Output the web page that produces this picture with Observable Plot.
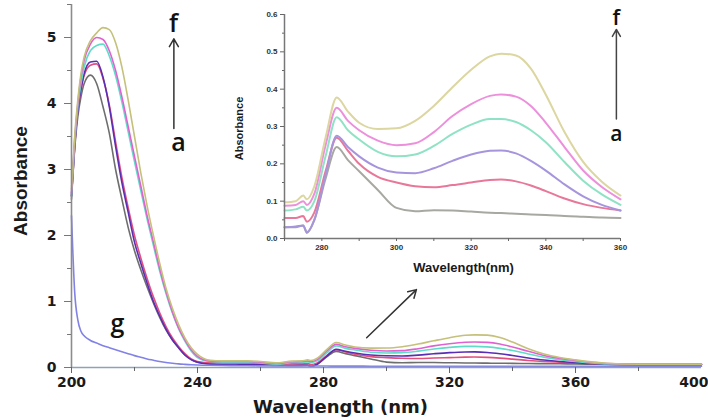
<!DOCTYPE html>
<html><head><meta charset="utf-8">
<script src="https://cdn.jsdelivr.net/npm/d3@7"></script>
<script src="https://cdn.jsdelivr.net/npm/@observablehq/plot@0.6"></script>
<style>
body{margin:0;background:#fff;}
#wrap{position:relative;width:708px;height:418px;overflow:hidden;background:#fff;}
#wrap svg{position:absolute;overflow:visible;}
</style></head><body><div id="wrap"></div>
<script>
// ---- data ----
const wavelength = [200,201,202,203,204, 206,208,210,212,214,216,218,220,222,224,226,228,230,232,234,236,238,240, 244,248,252,256,260, 265,270,273,275,276,278,281,284,287,290, 295,300,305,310,315,320,325,328,332,336,340,345,350,355,360, 365,370,380,390,400];
const seriesNames = ["a","b","c","d","e","f","g"];
const absA = [2.55,3.3,3.8,4.1,4.3, 4.43,4.3,3.95,3.55,3.0,2.55,2.12,1.77,1.48,1.22,0.98,0.76,0.57,0.42,0.3,0.19,0.12,0.08, 0.06,0.05,0.05,0.05,0.04, 0.04,0.03,0.03,0.035,0.015,0.05,0.16,0.245,0.21,0.18, 0.13,0.082,0.073,0.076,0.075,0.072,0.069,0.068,0.066,0.064,0.063,0.06,0.058,0.056,0.055, 0.05,0.045,0.04,0.04,0.04];
const absB = [2.6,3.35,3.9,4.2,4.42, 4.58,4.6,4.38,3.98,3.42,2.88,2.42,2.0,1.66,1.35,1.07,0.83,0.62,0.45,0.32,0.21,0.13,0.09, 0.07,0.07,0.07,0.07,0.06, 0.05,0.055,0.055,0.06,0.045,0.07,0.18,0.27,0.235,0.2, 0.165,0.15,0.14,0.137,0.143,0.15,0.157,0.158,0.153,0.142,0.127,0.107,0.092,0.082,0.075, 0.06,0.05,0.045,0.045,0.045];
const absC = [2.6,3.35,3.9,4.22,4.45, 4.63,4.64,4.4,3.95,3.35,2.8,2.35,1.9,1.58,1.28,1.0,0.78,0.58,0.42,0.3,0.19,0.12,0.08, 0.05,0.04,0.04,0.04,0.04, 0.03,0.03,0.032,0.035,0.017,0.05,0.17,0.275,0.245,0.22, 0.19,0.177,0.175,0.188,0.208,0.225,0.235,0.236,0.228,0.208,0.182,0.145,0.113,0.09,0.075, 0.06,0.05,0.045,0.045,0.045];
const absD = [2.6,3.4,3.95,4.3,4.55, 4.8,4.88,4.9,4.72,4.42,4.02,3.57,3.12,2.68,2.25,1.85,1.46,1.12,0.83,0.59,0.4,0.25,0.15, 0.09,0.08,0.08,0.08,0.07, 0.05,0.075,0.078,0.085,0.075,0.1,0.22,0.325,0.29,0.265, 0.232,0.22,0.225,0.248,0.28,0.305,0.32,0.32,0.312,0.29,0.258,0.205,0.155,0.118,0.09, 0.07,0.055,0.05,0.05,0.05];
const absE = [2.65,3.45,4.0,4.4,4.65, 4.9,5.0,4.97,4.8,4.5,4.1,3.65,3.2,2.75,2.3,1.9,1.5,1.15,0.85,0.6,0.42,0.27,0.17, 0.1,0.09,0.09,0.09,0.08, 0.06,0.088,0.09,0.1,0.09,0.12,0.25,0.35,0.315,0.29, 0.262,0.25,0.255,0.285,0.328,0.36,0.382,0.386,0.38,0.355,0.31,0.245,0.182,0.138,0.105, 0.08,0.06,0.05,0.05,0.05];
const absF = [2.7,3.5,4.05,4.45,4.7, 4.95,5.07,5.15,5.12,4.92,4.55,4.05,3.5,2.95,2.45,2.0,1.58,1.2,0.9,0.65,0.45,0.3,0.2, 0.11,0.1,0.1,0.1,0.09, 0.07,0.097,0.1,0.115,0.105,0.14,0.27,0.378,0.34,0.31, 0.293,0.295,0.315,0.355,0.405,0.452,0.488,0.495,0.49,0.455,0.385,0.285,0.205,0.152,0.115, 0.085,0.065,0.05,0.05,0.05];
const absG = [2.3,1.15,0.72,0.55,0.48, 0.41,0.37,0.33,0.3,0.27,0.24,0.21,0.18,0.155,0.13,0.11,0.09,0.075,0.065,0.055,0.048,0.042,0.038, 0.033,0.03,0.028,0.026,0.025, 0.024,0.023,0.023,0.022,0.022,0.022,0.022,0.021,0.021,0.021, 0.02,0.02,0.02,0.02,0.02,0.02,0.02,0.02,0.02,0.02,0.02,0.02,0.02,0.02,0.02, 0.02,0.02,0.02,0.02,0.02];
const seriesValues = [absA, absB, absC, absD, absE, absF, absG];
const insetSeries = ["a","b","c","d","e","f"];

const mainXTicks = [200,240,280,320,360];
const mainXLastTick = [400];
const mainXMinor = [220,260,300,340,380];
const mainYTicks = [0,1,2,3,4,5];
const mainYMinor = [0.5,1.5,2.5,3.5,4.5,5.5];
const insetXTicks = [280,300,320,340,360];
const insetXMinor = [270,290,310,330,350];
const insetYTicks = [0,0.1,0.2,0.3,0.4,0.5,0.6];
const insetYMinor = [0.05,0.15,0.25,0.35,0.45,0.55];

const mainNoteText = ["f","a","g"];
const mainNoteWl = [232.4, 234, 214.6];
const mainNoteAbs = [5.2, 3.4, 0.66];
const mainArrowFrom = [[232.5, 3.62], [293.7, 0.45]];
const mainArrowTo = [[232.5, 4.98], [309.5, 1.18]];
const insetNoteText = ["f","a"];
const insetNoteWl = [358.9, 358.9];
const insetNoteAbs = [0.59, 0.278];
const insetArrowFrom = [[358.9, 0.32]];
const insetArrowTo = [[358.9, 0.56]];

// ---- styles ----
const mainColors = ["#6e6e6e","#e4507e","#5a2db5","#5fdcc8","#e062d2","#c5c07a","#8282e6"];
const insetColors = ["#a8a8a2","#e8789a","#a695dd","#8fe3c4","#ec90dc","#dcd6a0"];
const FONT = "Liberation Sans, Arial, sans-serif";
const WIDEFONT = "DejaVu Sans, Verdana, sans-serif";
const NOTEFONT = "Open Sans, Noto Sans, sans-serif";

const rows = [];
seriesNames.forEach((s, i) => seriesValues[i].forEach((v, j) => rows.push({series: s, wl: wavelength[j], abs: v})));
const insetRows = rows.filter(d => insetSeries.includes(d.series) && d.wl >= 270 && d.wl <= 360);
const notes = (t, w, a) => t.map((s, i) => ({text: s, wl: w[i], abs: a[i]}));
const arrows = (f, t) => f.map((p, i) => ({x1: p[0], y1: p[1], x2: t[i][0], y2: t[i][1]}));

const main = Plot.plot({
  width: 708, height: 418,
  marginLeft: 71, marginRight: 7, marginTop: 4, marginBottom: 51,
  x: {domain: [200, 400]},
  y: {domain: [0, 5.5]},
  color: {domain: seriesNames, range: mainColors},
  style: {fontFamily: FONT, background: "transparent", color: "#1a1a1a"},
  marks: [
    Plot.line(rows, {x: "wl", y: "abs", z: "series", stroke: "series", strokeWidth: 1.6, curve: "monotone-x"}),
    Plot.ruleY([0], {stroke: "#8fa0bb", strokeWidth: 1.6}),
    Plot.ruleX([200], {stroke: "#8c8c8c", strokeWidth: 1.6}),
    Plot.axisX({ticks: mainXTicks, tickSize: 6, tickPadding: 4, fontSize: 14, fontWeight: "bold", fontFamily: WIDEFONT, tickFormat: d3.format("d"), label: null, stroke: "#666"}),
    Plot.axisX({ticks: mainXLastTick, tickSize: 6, tickPadding: 4, fontSize: 14, fontWeight: "bold", fontFamily: WIDEFONT, tickFormat: d3.format("d"), textAnchor: "end", dx: 7, label: null, stroke: "#666"}),
    Plot.axisX({ticks: mainXMinor, tickSize: 4, tickFormat: () => "", label: null, stroke: "#666"}),
    Plot.axisY({ticks: mainYTicks, tickSize: 7, tickPadding: 8, fontSize: 14, fontWeight: "bold", fontFamily: WIDEFONT, tickFormat: d3.format("d"), label: null, stroke: "#777"}),
    Plot.axisY({ticks: mainYMinor, tickSize: 4, tickFormat: () => "", label: null, stroke: "#777"}),
    Plot.text(["Wavelength (nm)"], {frameAnchor: "bottom", textAnchor: "middle", lineAnchor: "middle", dx: -46, dy: 40, fontSize: 18, fontWeight: "bold", fontFamily: WIDEFONT, fill: "#1a1a1a"}),
    Plot.text(["Absorbance"], {frameAnchor: "left", textAnchor: "middle", lineAnchor: "middle", rotate: -90, dx: -51, dy: -5, fontSize: 19, fontWeight: "bold", fill: "#1a1a1a"}),
    Plot.text(notes(mainNoteText, mainNoteWl, mainNoteAbs), {x: "wl", y: "abs", text: "text", fontSize: 25, fontWeight: 600, fontFamily: NOTEFONT, fill: "#111"}),
    Plot.arrow(arrows(mainArrowFrom, mainArrowTo), {x1: "x1", y1: "y1", x2: "x2", y2: "y2", stroke: "#333", strokeWidth: 1.5, headLength: 9})
  ]
});
main.style.left = "0px"; main.style.top = "0px";

const inset = Plot.plot({
  width: 420, height: 285,
  marginLeft: 64, marginRight: 20, marginTop: 14, marginBottom: 47,
  x: {domain: [270, 360]},
  y: {domain: [0, 0.6]},
  color: {domain: insetSeries, range: insetColors},
  style: {fontFamily: FONT, background: "transparent", color: "#333"},
  marks: [
    Plot.line(insetRows, {x: "wl", y: "abs", z: "series", stroke: "series", strokeWidth: 2, curve: "monotone-x"}),
    Plot.ruleY([0], {stroke: "#777", strokeWidth: 1.5}),
    Plot.ruleX([270], {stroke: "#777", strokeWidth: 1.5}),
    Plot.axisX({ticks: insetXTicks, tickSize: 3, tickPadding: 3, fontSize: 8, fontWeight: "bold", tickFormat: d3.format("d"), label: null, stroke: "#666", fill: "#333"}),
    Plot.axisX({ticks: insetXMinor, tickSize: 3, tickFormat: () => "", label: null, stroke: "#666"}),
    Plot.axisY({ticks: insetYTicks, tickSize: 4, tickPadding: 3, fontSize: 8, fontWeight: "bold", tickFormat: d3.format(".1f"), label: null, stroke: "#666", fill: "#333"}),
    Plot.axisY({ticks: insetYMinor, tickSize: 2, tickFormat: () => "", label: null, stroke: "#666"}),
    Plot.text(["Wavelength(nm)"], {frameAnchor: "bottom", textAnchor: "middle", lineAnchor: "middle", dx: 11, dy: 29, fontSize: 13, fontWeight: "bold", fill: "#1a1a1a"}),
    Plot.text(["Absorbance"], {frameAnchor: "left", textAnchor: "middle", lineAnchor: "middle", rotate: -90, dx: -45, dy: 2, fontSize: 11, fontWeight: "bold", fill: "#1a1a1a"}),
    Plot.text(notes(insetNoteText, insetNoteWl, insetNoteAbs), {x: "wl", y: "abs", text: "text", fontSize: 21, fontWeight: 600, fontFamily: NOTEFONT, fill: "#111"}),
    Plot.arrow(arrows(insetArrowFrom, insetArrowTo), {x1: "x1", y1: "y1", x2: "x2", y2: "y2", stroke: "#444", strokeWidth: 1.5, headLength: 8})
  ]
});
inset.style.left = "220px"; inset.style.top = "0px";

const wrap = document.getElementById("wrap");
wrap.appendChild(main);
wrap.appendChild(inset);
</script>
</body></html>
